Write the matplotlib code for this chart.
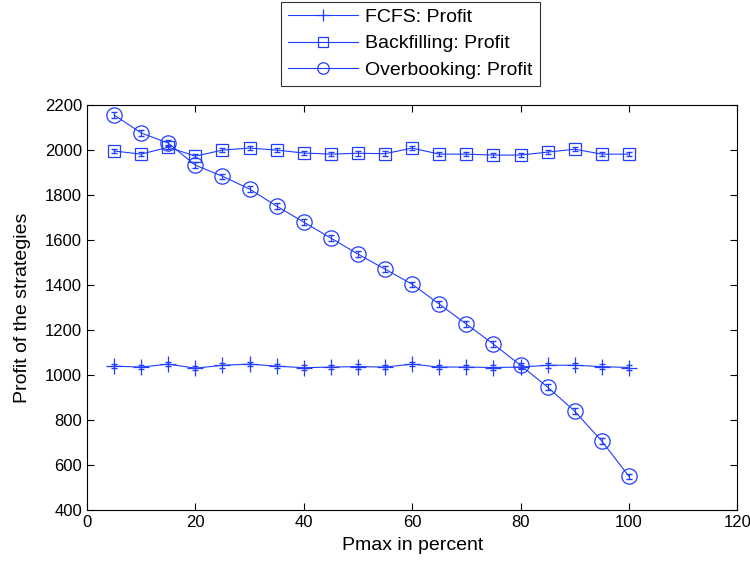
import matplotlib.pyplot as plt
import numpy as np

plt.rcParams['font.family'] = ['Liberation Sans', 'DejaVu Sans']

pmax = [5, 10, 15, 20, 25, 30, 35, 40, 45, 50, 55, 60, 65, 70, 75, 80, 85, 90, 95, 100]

fcfs = [1040, 1036, 1049, 1031, 1044, 1049, 1040, 1033, 1036, 1038,
        1036, 1049, 1036, 1036, 1034, 1036, 1044, 1044, 1038, 1034]
backfill = [1996, 1982, 2013, 1973, 2000, 2009, 2000, 1987, 1982, 1986,
            1984, 2009, 1982, 1982, 1978, 1978, 1991, 2004, 1982, 1982]
overbook = [2156, 2076, 2031, 1933, 1884, 1827, 1751, 1680, 1609, 1538,
            1471, 1404, 1316, 1227, 1138, 1044, 947, 840, 707, 551]

# tiny confidence intervals
fcfs_err = [10] * len(pmax)
backfill_err = [10] * len(pmax)
overbook_err = [12] * len(pmax)

fig = plt.figure(figsize=(7.5, 5.65), dpi=100)
ax = fig.add_axes([0.116, 0.097, 0.867, 0.717])

blue = '#1f3cff'
series = [(fcfs, fcfs_err, '+', 11, 'FCFS: Profit'),
          (backfill, backfill_err, 's', 9, 'Backfilling: Profit'),
          (overbook, overbook_err, 'o', 11, 'Overbooking: Profit')]
for vals, err, mk, ms, lab in series:
    ax.errorbar(pmax, vals, yerr=err, fmt='none', ecolor=blue, elinewidth=0.8, capsize=2.5)
    ax.plot(pmax, vals, color=blue, lw=0.8, marker=mk, ms=ms, mfc='none', mew=0.9, label=lab)

ax.set_xlim(0, 120)
ax.set_ylim(400, 2200)
ax.set_xticks(np.arange(0, 121, 20))
ax.set_yticks(np.arange(400, 2201, 200))
ax.tick_params(direction='in', top=True, right=True, labelsize=12, length=5)
ax.set_xlabel('Pmax in percent', fontsize=14, labelpad=5)
ax.set_ylabel('Profit of the strategies', fontsize=14, labelpad=10)

leg = fig.legend(loc='upper center', bbox_to_anchor=(0.547, 0.997), fontsize=14,
                 frameon=True, fancybox=False, edgecolor='black', handlelength=3.6,
                 borderpad=0.35, labelspacing=0.45, handletextpad=0.4, borderaxespad=0,
                 markerscale=0.75)
leg.get_frame().set_linewidth(0.8)

plt.savefig('out.png', dpi=100)
